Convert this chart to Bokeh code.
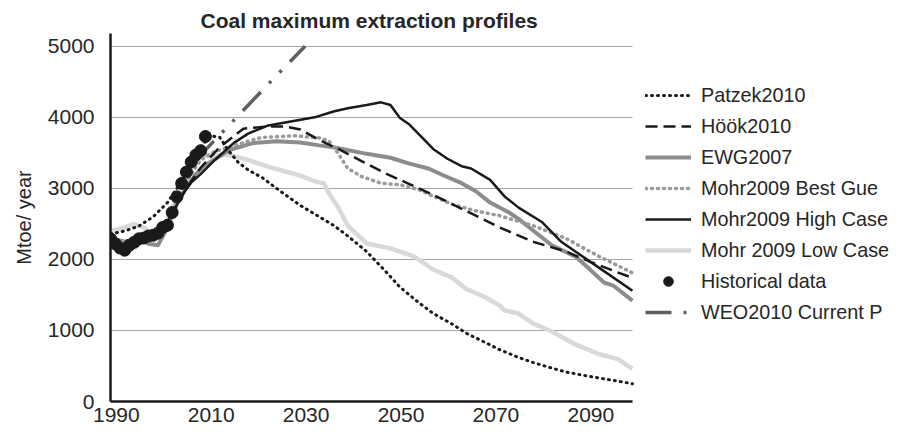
from bokeh.plotting import figure
from bokeh.models import Range1d, Legend, LegendItem, FixedTicker
from bokeh.embed import file_html
from bokeh.resources import INLINE

# ---------------- data ----------------
hist_years = list(range(1990, 2011))
hist_vals = [2290, 2220, 2160, 2130, 2200, 2240, 2290, 2300, 2330, 2340, 2370,
             2450, 2480, 2660, 2880, 3070, 3230, 3370, 3470, 3530, 3730]

patzek_years = [1990, 1993, 1996, 1999, 2002, 2005, 2008, 2011, 2013, 2015, 2017,
                2019, 2022, 2026, 2030, 2034, 2037, 2040, 2044, 2048, 2051, 2055,
                2058, 2062, 2065, 2069, 2072, 2076, 2079, 2083, 2086, 2090, 2093,
                2097, 2100]
patzek_vals = [2360, 2400, 2470, 2600, 2800, 3100, 3500, 3740, 3720, 3520, 3360,
               3260, 3150, 2950, 2760, 2600, 2480, 2330, 2110, 1830, 1610, 1390,
               1240, 1090, 960, 830, 730, 620, 550, 470, 415, 365, 330, 285, 250]

hook_years = [1990, 1993, 1996, 1999, 2001, 2003, 2006, 2009, 2013, 2018, 2023,
              2027, 2030, 2034, 2038, 2043, 2048, 2053, 2058, 2065, 2072, 2079,
              2086, 2091, 2096, 2100]
hook_vals = [2270, 2200, 2250, 2300, 2400, 2650, 3000, 3290, 3580, 3840, 3870,
             3870, 3830, 3680, 3555, 3380, 3210, 3060, 2910, 2680, 2450, 2250,
             2110, 1970, 1840, 1740]

ewg_years = [1990, 1993, 1996, 1998, 2000, 2002, 2004, 2006, 2008, 2010, 2013,
             2015, 2020, 2025, 2030, 2034, 2037, 2044, 2049, 2053, 2057, 2060,
             2064, 2067, 2070, 2074, 2076, 2079, 2083, 2088, 2091, 2094, 2096,
             2100]
ewg_vals = [2300, 2250, 2300, 2220, 2200, 2450, 2780, 3020, 3200, 3330, 3450,
            3540, 3636, 3664, 3645, 3605, 3578, 3486, 3431, 3349, 3280, 3188,
            3073, 2959, 2800, 2660, 2570, 2410, 2200, 2040, 1860, 1675, 1630,
            1420]

best_years = [1990, 1993, 1996, 1999, 2001, 2003, 2006, 2009, 2012, 2015, 2019,
              2022, 2029, 2034, 2036, 2038, 2040, 2043, 2047, 2051, 2055, 2058,
              2062, 2067, 2072, 2079, 2086, 2093, 2100]
best_vals = [2280, 2250, 2270, 2300, 2400, 2680, 3100, 3400, 3520, 3580, 3664,
             3719, 3740, 3710, 3670, 3490, 3280, 3165, 3073, 3050, 2980, 2890,
             2775, 2683, 2615, 2477, 2294, 2041, 1810]

high_years = [1990, 1993, 1996, 1999, 2001, 2003, 2005, 2007, 2009, 2012, 2016,
              2019, 2023, 2028, 2033, 2037, 2040, 2044, 2047, 2049, 2051, 2053,
              2056, 2058, 2061, 2064, 2066, 2070, 2073, 2076, 2081, 2085, 2091,
              2095, 2100]
high_vals = [2280, 2150, 2290, 2300, 2420, 2640, 2900, 3080, 3200, 3400, 3640,
             3770, 3880, 3940, 4000, 4083, 4128, 4174, 4211, 4174, 3991, 3899,
             3693, 3555, 3417, 3312, 3280, 3119, 2890, 2729, 2523, 2248, 1972,
             1789, 1560]

low_years = [1990, 1993, 1995, 1997, 1999, 2001, 2003, 2005, 2008, 2010, 2015,
             2019, 2024, 2030, 2033, 2035, 2036, 2038, 2040, 2044, 2049, 2054,
             2058, 2062, 2065, 2069, 2072, 2073, 2076, 2079, 2083, 2088, 2093,
             2097, 2100]
low_vals = [2400, 2450, 2495, 2450, 2330, 2400, 2700, 3160, 3430, 3470, 3470,
            3400, 3290, 3180, 3100, 3070, 2936, 2729, 2477, 2225, 2156, 2041,
            1858, 1743, 1583, 1468, 1353, 1284, 1238, 1101, 986, 803, 665, 596,
            459]

weo_years = [2008, 2015, 2020, 2025, 2031]
weo_vals = [3400, 3890, 4240, 4590, 5000]

x_start, x_end = 1990, 2100
x_ticks = [1990, 2010, 2030, 2050, 2070, 2090]
y_ticks = [0, 1000, 2000, 3000, 4000, 5000]

title_text = "Coal maximum extraction profiles"
y_label = "Mtoe/ year"

FONT = "Liberation Sans"
TXT = "#262626"

W, H = 890, 428
LEFT, BOTTOM, TOP = 110, 25, 33
PX_PER_YEAR = 4.745
# the frame runs to the canvas edge so the legend can sit inside it;
# axis and grid lines are bounded to the data years
x_view_end = x_start + (W - LEFT) / PX_PER_YEAR

p = figure(width=W, height=H, output_backend="svg", toolbar_location=None,
           x_range=Range1d(x_start, x_view_end), y_range=Range1d(0, 5180),
           min_border_left=LEFT, min_border_right=0, min_border_top=TOP,
           min_border_bottom=BOTTOM, background_fill_color="white",
           border_fill_color="white")
p.outline_line_color = None

p.title.text = title_text
p.title.align = "left"
p.title.offset = 90
p.title.text_font = FONT
p.title.text_font_style = "bold"
p.title.text_font_size = "21px"
p.title.text_color = TXT
p.title.standoff = 3
p.title.vertical_align = "bottom"

# axes
p.xaxis.ticker = FixedTicker(ticks=x_ticks)
p.yaxis.ticker = FixedTicker(ticks=y_ticks)
p.xaxis.bounds = (x_start, x_end)
# as in the reference, the year labels sit a few pixels right of their ticks
p.xaxis.major_label_overrides = {t: "\u00a0\u00a0" + str(t) for t in x_ticks}
for ax in (p.xaxis[0], p.yaxis[0]):
    ax.axis_line_color = "#1a1a1a"
    ax.axis_line_width = 2.5
    ax.major_tick_out = 0
    ax.major_tick_in = 0
    ax.minor_tick_out = 0
    ax.minor_tick_in = 0
    ax.major_label_text_font = FONT
    ax.major_label_text_font_size = "21px"
    ax.major_label_text_color = TXT
p.xaxis.major_label_standoff = 1
p.yaxis.major_label_standoff = 16
p.yaxis.axis_label = y_label
p.yaxis.axis_label_text_font = FONT
p.yaxis.axis_label_text_font_size = "20px"
p.yaxis.axis_label_text_font_style = "normal"
p.yaxis.axis_label_text_color = TXT
p.yaxis.axis_label_standoff = 10

p.xgrid.visible = False
p.ygrid.ticker = FixedTicker(ticks=y_ticks)
p.ygrid.grid_line_color = "#a6a6a6"
p.ygrid.grid_line_width = 1
if hasattr(p.ygrid[0], "cross_bounds"):
    p.ygrid.cross_bounds = (x_start, x_end)
else:
    p.ygrid.visible = False
    p.segment(x0=[x_start] * len(y_ticks), y0=y_ticks,
              x1=[x_end] * len(y_ticks), y1=y_ticks,
              line_color="#a6a6a6", line_width=1)

# series
r_low = p.line(low_years, low_vals, line_color="#d9d9d9", line_width=4.5)
r_ewg = p.line(ewg_years, ewg_vals, line_color="#8c8c8c", line_width=4)
r_best = p.line(best_years, best_vals, line_color="#9a9a9a", line_width=3.5,
                line_dash="1 5", line_cap="round")
r_hook = p.line(hook_years, hook_vals, line_color="#1a1a1a", line_width=2.5,
                line_dash="12 6")
r_high = p.line(high_years, high_vals, line_color="#1a1a1a", line_width=2.5)
r_patzek = p.line(patzek_years, patzek_vals, line_color="#1a1a1a", line_width=3,
                  line_dash="1 5", line_cap="round")
r_weo = p.line(weo_years, weo_vals, line_color="#5f5f5f", line_width=3.5,
               line_dash="26 12 3 12 3 12")
r_hist = p.scatter(hist_years, hist_vals, marker="circle", size=12,
                   fill_color="#1a1a1a", line_color="#1a1a1a")

legend = Legend(items=[
    LegendItem(label="Patzek2010", renderers=[r_patzek]),
    LegendItem(label="Höök2010", renderers=[r_hook]),
    LegendItem(label="EWG2007", renderers=[r_ewg]),
    LegendItem(label="Mohr2009 Best Gue", renderers=[r_best]),
    LegendItem(label="Mohr2009 High Case", renderers=[r_high]),
    LegendItem(label="Mohr 2009 Low Case", renderers=[r_low]),
    LegendItem(label="Historical data", renderers=[r_hist]),
    LegendItem(label="WEO2010 Current P", renderers=[r_weo]),
], location=(535, 77))
legend.border_line_color = None
legend.background_fill_alpha = 0
legend.padding = 0
legend.margin = 0
legend.spacing = 7
legend.glyph_width = 46
legend.glyph_height = 24
legend.label_height = 24
legend.label_standoff = 10
legend.label_text_font = FONT
legend.label_text_font_size = "19.8px"
legend.label_text_color = TXT
p.add_layout(legend, "center")

open("out.html", "w").write(file_html(p, INLINE))
